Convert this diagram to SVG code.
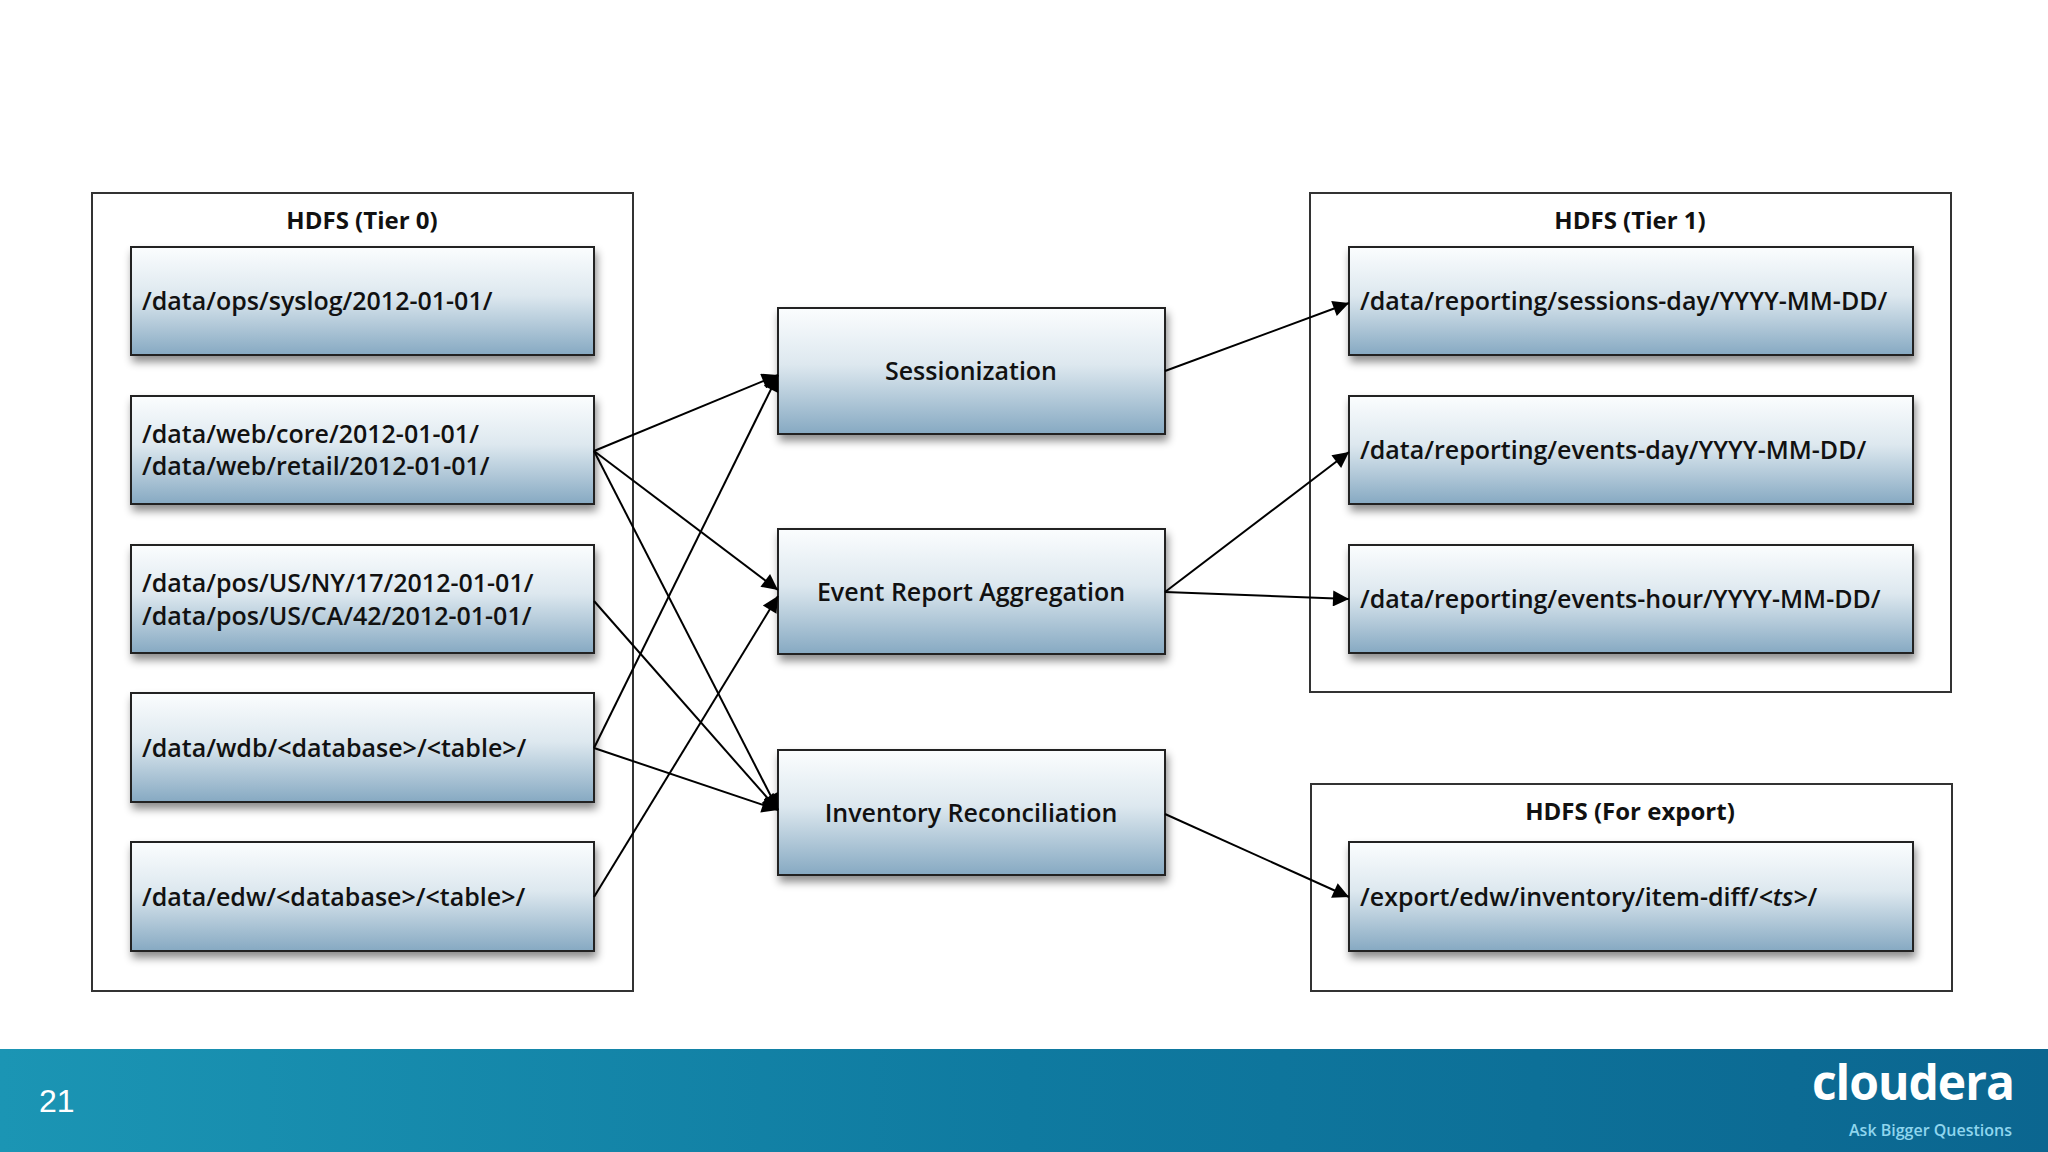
<svg xmlns="http://www.w3.org/2000/svg" width="2048" height="1152" viewBox="0 0 2048 1152">
<defs>
<linearGradient id="ng" x1="0" y1="0" x2="0" y2="1"><stop offset="0" stop-color="#fbfdfe"/><stop offset="0.45" stop-color="#dde8ef"/><stop offset="1" stop-color="#86a9c2"/></linearGradient>
<linearGradient id="fg" x1="0" y1="0" x2="1" y2="0"><stop offset="0" stop-color="#1b95b4"/><stop offset="0.5" stop-color="#0f7aa0"/><stop offset="1" stop-color="#0b6690"/></linearGradient>
<filter id="sh" x="-5%" y="-10%" width="112%" height="130%"><feDropShadow dx="2" dy="6" stdDeviation="4" flood-color="#000" flood-opacity="0.45"/></filter>
<marker id="ar" viewBox="0 0 10 10" refX="10" refY="5" markerWidth="20" markerHeight="16" markerUnits="userSpaceOnUse" orient="auto"><path d="M0,0 L10,5 L0,10 z" fill="#000"/></marker>
<style>
.c{fill:#fff;stroke:#333;stroke-width:2}
.n{fill:url(#ng);stroke:#222;stroke-width:2;filter:url(#sh)}
.t{font-family:"Open Sans","Liberation Sans",sans-serif;font-weight:600;font-size:25px;fill:#111}
.h{font-family:"Open Sans","Liberation Sans",sans-serif;font-weight:700;font-size:24px;fill:#111;text-anchor:middle}
.m{text-anchor:middle}
.e{stroke:#000;stroke-width:2;fill:none;marker-end:url(#ar)}
</style>
</defs>
<rect width="2048" height="1152" fill="#fff"/>
<g id="tier0"><rect class="c" x="92" y="193" width="541" height="798"/><text class="h" x="362" y="229">HDFS (Tier 0)</text></g>
<g id="tier1"><rect class="c" x="1310" y="193" width="641" height="499"/><text class="h" x="1630" y="229">HDFS (Tier 1)</text></g>
<g id="export"><rect class="c" x="1311" y="784" width="641" height="207"/><text class="h" x="1630" y="820">HDFS (For export)</text></g>
<g id="n1"><rect class="n" x="131" y="247" width="463" height="108"/><text class="t" x="142" y="310">/data/ops/syslog/2012-01-01/</text></g>
<g id="n2"><rect class="n" x="131" y="396" width="463" height="108"/><text class="t" x="142" y="443">/data/web/core/2012-01-01/</text><text class="t" x="142" y="475">/data/web/retail/2012-01-01/</text></g>
<g id="n3"><rect class="n" x="131" y="545" width="463" height="108"/><text class="t" x="142" y="592">/data/pos/US/NY/17/2012-01-01/</text><text class="t" x="142" y="625">/data/pos/US/CA/42/2012-01-01/</text></g>
<g id="n4"><rect class="n" x="131" y="693" width="463" height="109"/><text class="t" x="142" y="757">/data/wdb/&lt;database&gt;/&lt;table&gt;/</text></g>
<g id="n5"><rect class="n" x="131" y="842" width="463" height="109"/><text class="t" x="142" y="906">/data/edw/&lt;database&gt;/&lt;table&gt;/</text></g>
<g id="p1"><rect class="n" x="778" y="308" width="387" height="126"/><text class="t m" x="971" y="380">Sessionization</text></g>
<g id="p2"><rect class="n" x="778" y="529" width="387" height="125"/><text class="t m" x="971" y="601">Event Report Aggregation</text></g>
<g id="p3"><rect class="n" x="778" y="750" width="387" height="125"/><text class="t m" x="971" y="822">Inventory Reconciliation</text></g>
<g id="r1"><rect class="n" x="1349" y="247" width="564" height="108"/><text class="t" x="1360" y="310">/data/reporting/sessions-day/YYYY-MM-DD/</text></g>
<g id="r2"><rect class="n" x="1349" y="396" width="564" height="108"/><text class="t" x="1360" y="459">/data/reporting/events-day/YYYY-MM-DD/</text></g>
<g id="r3"><rect class="n" x="1349" y="545" width="564" height="108"/><text class="t" x="1360" y="608">/data/reporting/events-hour/YYYY-MM-DD/</text></g>
<g id="r4"><rect class="n" x="1349" y="842" width="564" height="109"/><text class="t" x="1360" y="906">/export/edw/inventory/item-diff/<tspan font-style="italic">&lt;ts&gt;</tspan>/</text></g>
<g id="connectors">
<line class="e" x1="594" y1="451" x2="778" y2="375"/>
<line class="e" x1="594" y1="451" x2="778" y2="590"/>
<line class="e" x1="594" y1="451" x2="778" y2="810"/>
<line class="e" x1="594" y1="601" x2="778" y2="810"/>
<line class="e" x1="594" y1="748" x2="778" y2="375"/>
<line class="e" x1="594" y1="748" x2="778" y2="810"/>
<line class="e" x1="594" y1="897" x2="778" y2="596"/>
<line class="e" x1="1165" y1="371" x2="1349" y2="303"/>
<line class="e" x1="1165" y1="592" x2="1349" y2="452"/>
<line class="e" x1="1165" y1="592" x2="1349" y2="599"/>
<line class="e" x1="1165" y1="814" x2="1349" y2="897"/>
</g>
<g id="footer"><rect x="0" y="1049" width="2048" height="103" fill="url(#fg)"/>
<text x="39" y="1112" font-family="Liberation Sans,sans-serif" font-size="32" fill="#fff">21</text>
<text x="2014" y="1100" font-family="Open Sans,Liberation Sans,sans-serif" font-weight="700" font-size="48" fill="#fff" text-anchor="end" letter-spacing="-1">cloudera</text>
<text x="2012" y="1136" font-family="Open Sans,Liberation Sans,sans-serif" font-weight="600" font-size="16" fill="#8fd6ee" text-anchor="end">Ask Bigger Questions</text>
</g>
</svg>
